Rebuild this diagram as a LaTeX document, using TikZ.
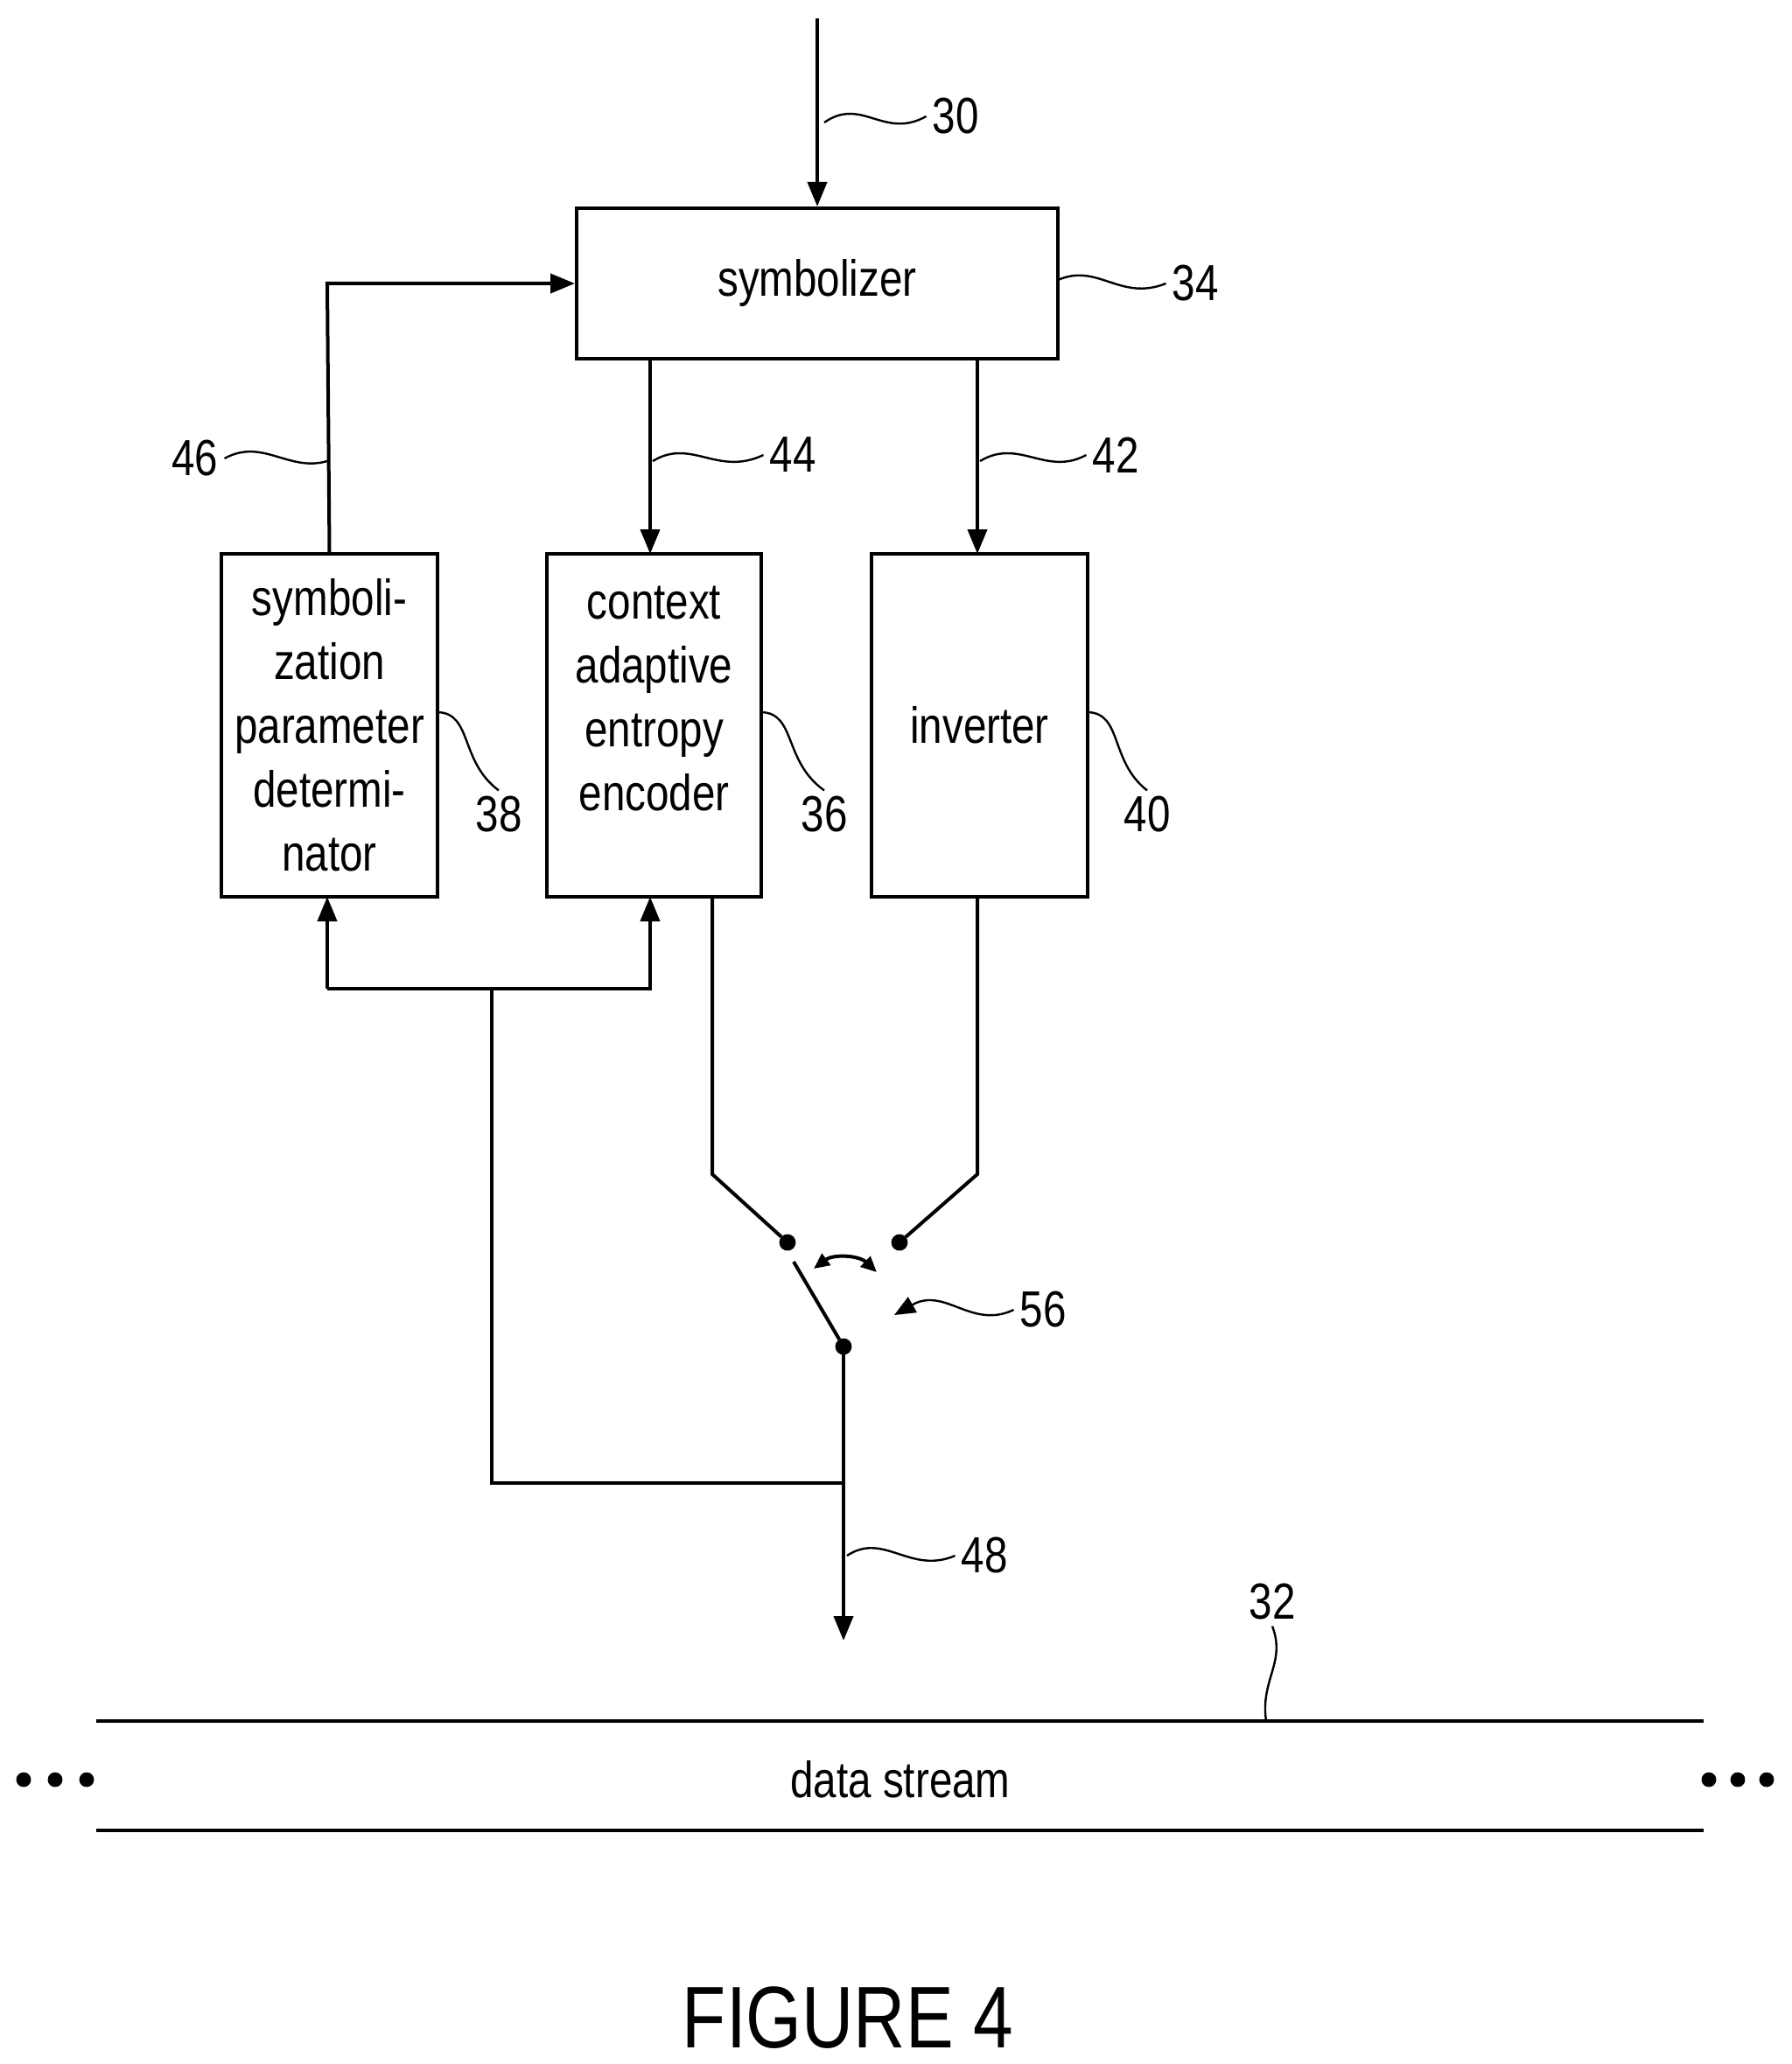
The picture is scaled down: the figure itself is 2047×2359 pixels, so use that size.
\documentclass[tikz,border=0pt]{standalone}
\usepackage{fontspec}
\setmainfont{Liberation Sans}[FakeStretch=0.82]
\usetikzlibrary{arrows.meta}
\begin{document}
\begin{tikzpicture}
            [x=0.5pt, y=-0.5pt,
             myBox/.style={rectangle, draw, line width=2pt, align=center, inner sep=0pt},
             myText/.style={font=\fontsize{29}{36.5}\selectfont, align=center},
             myLine/.style={line width=2pt},
             myArrow/.style={line width=2pt, -{Triangle[length=14pt, width=11pt]}},
             lead/.style={line width=1.2pt},
             dot/.style={circle, fill, draw, inner sep=0pt, minimum size=9pt}]

            \useasboundingbox (0,0) rectangle (2047,2359);

            % boxes
            \node[myBox, minimum width=550pt*0.5, minimum height=172pt*0.5] (symbolizer) at (934,324) {};
            \node[myText] at (symbolizer) {symbolizer};
            \node[myBox, minimum width=247pt*0.5, minimum height=392pt*0.5] (parameterDeterminator) at (376.5,829) {};
            \node[myText] at (376.5,829) {symboli-\\zation\\parameter\\determi-\\nator};
            \node[myBox, minimum width=245pt*0.5, minimum height=392pt*0.5] (entropyEncoder) at (747.5,829) {};
            \node[myText] at (747.5,799) {context\\adaptive\\entropy\\encoder};
            \node[myBox, minimum width=247pt*0.5, minimum height=392pt*0.5] (inverter) at (1119.5,829) {};
            \node[myText] at (1119.5,829) {inverter};

            % switch
            \node[dot] (switchA) at (900,1420) {};
            \node[dot] (switchB) at (1028,1420) {};
            \node[dot] (switchOut) at (964,1539) {};
            \coordinate (lever) at (907,1442);
            \coordinate (input) at (934,21);
            \coordinate (junction) at (964,1695);
            \coordinate (output) at (964,1875);

            % connectors
            \draw[myArrow] (input) -- (symbolizer.north);
            \draw[myArrow] (parameterDeterminator.north) -- (374,324) -- (symbolizer.west);
            \draw[myArrow] (743,410) -- (743,633);
            \draw[myArrow] (1117,410) -- (1117,633);
            \draw[myLine] (814,1025) -- (814,1342) -- (switchA);
            \draw[myLine] (1117,1025) -- (1117,1342) -- (switchB);
            \draw[myLine] (switchOut) -- (lever);
            \draw[myArrow] (switchOut) -- (output);
            \draw[myLine] (junction) -- (562,1695) -- (562,1130);
            \draw[myArrow] (374,1130) -- (374,1025);
            \draw[myArrow] (374,1130) -- (743,1130) -- (743,1025);
            \draw[line width=2pt, {Triangle[length=9pt, width=8pt]}-{Triangle[length=9pt, width=8pt]}] (930,1450) to[bend left=40] (1002,1454);

            % data stream
            \draw[myLine] (110,1967) -- (1947,1967);
            \draw[myLine] (110,2092) -- (1947,2092);
            \node[myText] (dataStream) at (1029,2034) {data stream};
            \foreach \x in {27,63,99,1953,1986,2019}
                \node[dot, minimum size=8pt] at (\x,2034) {};

            % reference numerals
            \node[myText] (n30) at (1092,133) {30};
            \draw[lead] (942,140) .. controls (985,110) and (1010,160) .. (n30.west);
            \node[myText] (n34) at (1366,324) {34};
            \draw[lead] (1209,320) .. controls (1255,300) and (1280,345) .. (n34.west);
            \node[myText] (n46) at (223,524) {46};
            \draw[lead] (n46.east) .. controls (300,500) and (330,540) .. (374,527);
            \node[myText] (n44) at (906,520) {44};
            \draw[lead] (746,527) .. controls (790,500) and (820,545) .. (n44.west);
            \node[myText] (n42) at (1275,520) {42};
            \draw[lead] (1120,527) .. controls (1165,500) and (1195,545) .. (n42.west);
            \node[myText] (n38) at (570,931) {38};
            \draw[lead] (500,814) .. controls (540,815) and (525,870) .. (n38.north);
            \node[myText] (n36) at (942,931) {36};
            \draw[lead] (870,814) .. controls (910,815) and (895,870) .. (n36.north);
            \node[myText] (n40) at (1311,931) {40};
            \draw[lead] (1243,814) .. controls (1283,815) and (1268,870) .. (n40.north);
            \node[myText] (n56) at (1192,1497) {56};
            \draw[lead, -{Triangle[length=12pt, width=10pt]}] (n56.west) .. controls (1110,1520) and (1080,1470) .. (1022,1503);
            \node[myText] (n48) at (1125,1778) {48};
            \draw[lead] (968,1778) .. controls (1010,1750) and (1040,1800) .. (n48.west);
            \node[myText] (n32) at (1454,1831) {32};
            \draw[lead] (n32.south) .. controls (1470,1900) and (1440,1920) .. (1447,1967);

            \node[font=\fontsize{50}{60}\selectfont] (figureLabel) at (969,2306) {FIGURE 4};
        \end{tikzpicture}
\end{document}
